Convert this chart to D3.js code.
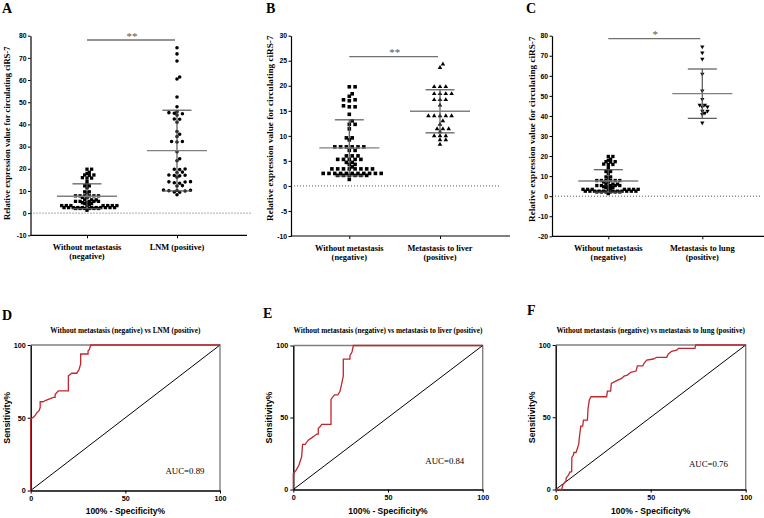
<!DOCTYPE html>
<html><head><meta charset="utf-8">
<script src="https://cdn.jsdelivr.net/npm/d3@7"></script>
<style>body{margin:0;background:#fff}svg{display:block}</style>
</head><body>
<svg id="c" width="764" height="518"></svg>
<script>
// ---------------- DATA ----------------
const catsA = [["Without metastasis", "(negative)"], ["LNM (positive)"]];
const catsB = [["Without metastasis", "(negative)"], ["Metastasis to liver", "(positive)"]];
const catsC = [["Without metastasis", "(negative)"], ["Metastasis to lung", "(positive)"]];

const negValues = [19.8, 19.8, 18.4, 17.9, 17.2, 17.2, 17.0, 16.0, 15.8, 15.8, 14.3, 13.0, 12.3, 12.3, 11.4, 9.6, 9.6, 9.2,
  7.8, 7.8, 7.8, 7.8, 7.8, 7.8, 7.1, 7.1, 6.0, 6.0, 6.0, 5.3, 5.3, 5.3, 5.3, 5.3, 4.7, 4.7, 4.3, 4.3, 3.8,
  3.4, 3.4, 3.4, 3.4, 3.4, 3.4, 3.4, 3.4, 2.5, 2.5, 2.5, 2.5, 2.5, 2.5, 2.5, 2.5, 2.5, 2.5, 2.5,
  2.1, 2.1, 2.1, 2.1, 2.1, 2.1, 1.3];
const lnmValues = [74.6, 71.8, 68.6, 61.4, 60.5, 52.4, 48.0, 45.7, 45.3, 45.0, 44.8, 44.2, 42.4, 42.3, 41.0, 36.8, 35.6, 34.5,
  32.3, 32.1, 32.3, 27.7, 24.5, 23.6, 19.9, 19.7, 19.8, 18.5, 18.3, 17.1, 17.0, 16.8, 17.2, 16.2, 14.2, 14.0, 14.1, 13.7, 13.5,
  12.4, 12.2, 10.3, 10.1, 10.2, 10.0, 10.4, 9.5, 9.4, 8.3];
const liverValues = [24.3, 23.6, 19.8, 19.8, 19.8, 18.4, 18.4, 18.4, 18.4, 17.2, 17.2, 17.2, 16.1, 14.0, 14.0, 14.0, 14.0, 14.0,
  13.0, 12.3, 11.4, 11.4, 11.4, 10.8, 10.0, 10.0, 10.0, 9.2, 9.2, 8.3];
const lungValues = [74.5, 71.5, 68.4, 60.9, 52.6, 48.3, 45.5, 44.6, 44.6, 45.5, 42.5, 41.5, 42.5, 40.8, 36.6];

// mean, SD
const negStats = [7.6, 5.6];
const lnmStats = [28.2, 18.2];
const liverStats = [14.9, 4.3];
const lungStats = [51.1, 12.3];

const ticksA = [-10, 0, 10, 20, 30, 40, 50, 60, 70, 80];
const ticksB = [-10, -5, 0, 5, 10, 15, 20, 25, 30];
const ticksC = [-20, -10, 0, 10, 20, 30, 40, 50, 60, 70, 80];
const rocTicks = [0, 50, 100];

const rocD = [[0,0],[0,49],[1,50],[2,51],[3,53],[4.5,55],[5,57],[5,61],[6.5,61],[8,62],[10,63],[12,64],[12.9,64],[12.9,66],[14.6,68.5],[19.9,68.5],[19.9,78.8],[21.7,80.6],[24.3,80.6],[25.5,83],[26.4,87],[26.4,93.8],[30.3,93.8],[30.3,96],[31,97],[31.7,100],[100,100]];
const rocE = [[0,0],[0,11.1],[1.5,13.5],[3,17],[4.4,22.7],[4.9,31.3],[6.2,31.3],[7.9,34.3],[10.6,36.7],[12.3,38.5],[13.2,38.5],[13.2,42.5],[14.1,43.5],[15,45.2],[19.9,45.2],[19.9,62.6],[21.7,65.7],[23.5,65.7],[24.6,68],[25.5,73],[26.4,78.9],[26.4,90.5],[29.9,90.5],[29.9,93],[31,95.5],[31.7,100],[100,100]];
const rocF = [[0,0],[3.2,0],[3.7,3],[4.9,5.3],[5.5,6],[5.5,8],[6.7,9.9],[7.5,12.2],[8.4,12.2],[8.5,22.2],[9.3,23.8],[9.6,25.6],[10.7,25.6],[11.4,28.4],[12.1,31.4],[12.5,36.5],[13.2,43.9],[14.2,43.9],[14.6,48],[16.7,48],[17,55.7],[17.7,61.9],[18.6,64.2],[26.8,64.2],[27.2,68.1],[28.9,68.1],[29.3,73.4],[32.1,75.3],[34.7,76.9],[36,78.5],[37.7,79.2],[39.5,81.1],[42.3,82],[43,85.5],[45.8,85.5],[46.5,87.3],[47.9,89.6],[51.4,90.3],[53.2,91.5],[58.4,91.5],[59.3,93.8],[61,95.6],[63.7,96.5],[64.6,97.7],[73.3,97.7],[73.7,100],[100,100]];
const diagonal = [[0,0],[100,100]];

const rocTitles = ["Without metastasis (negative) vs LNM (positive)",
  "Without metastasis (negative) vs metastasis to liver (positive)",
  "Without metastasis (negative) vs metastasis to lung (positive)"];
const aucLabels = ["AUC=0.89", "AUC=0.84", "AUC=0.76"];
const yTitle = "Relative expression value for circulating ciRS-7";

// ---------------- DRAW ----------------
const svg = d3.select("#c");
const SERIF = "'Liberation Serif','Times New Roman',serif";
const SANS = "'Liberation Sans',Arial,sans-serif";

// beeswarm: points in the same row need a full step, points in neighbouring rows half a step
function swarm(values, y, cx, spacing, sameTol, nearTol) {
  const pts = values.map(v => ({v, py: y(v)})).sort((a, b) => a.v - b.v);
  const placed = [];
  const step = spacing / 2;
  pts.forEach(p => {
    for (let k = 0; k < 400; k++) {
      const off = (k === 0) ? 0 : (k % 2 === 1 ? 1 : -1) * Math.ceil(k / 2) * step;
      const px = cx + off;
      const clash = placed.some(q => {
        const dv = Math.abs(q.v - p.v), dx = Math.abs(q.px - px);
        return (dv < sameTol && dx < spacing - 0.01) || (dv < nearTol && dx < step - 0.01);
      });
      if (!clash) { p.px = px; placed.push(p); break; }
    }
  });
  return placed;
}

function letter(t, x, y) {
  svg.append("text").attr("x", x).attr("y", y).text(t)
    .attr("font-family", SERIF).attr("font-weight", "bold").attr("font-size", 14);
}

function styleAxis(sel) {
  sel.select(".domain").attr("stroke", "#000").attr("stroke-width", 1.2);
  sel.selectAll(".tick line").attr("stroke", "#000").attr("stroke-width", 1);
}

function scatter(cfg) {
  const g = svg.append("g");
  const y = d3.scaleLinear().domain([cfg.ticks[0], cfg.ticks[cfg.ticks.length - 1]]).range([cfg.yBottom, cfg.yTop]);
  const x = d3.scalePoint().domain([0, 1]).range([cfg.c0, cfg.c1]);

  g.append("line").attr("x1", cfg.axisX).attr("x2", cfg.zeroEnd).attr("y1", y(0)).attr("y2", y(0))
    .attr("stroke", "#444").attr("stroke-width", 0.9).attr("stroke-dasharray", "1,2");

  const ya = g.append("g").attr("transform", `translate(${cfg.axisX},0)`)
    .call(d3.axisLeft(y).tickValues(cfg.ticks).tickSize(2.5).tickSizeOuter(0).tickPadding(1.5).tickFormat(d => String(d)));
  styleAxis(ya);
  ya.selectAll("text").attr("font-family", SANS).attr("font-weight", "bold").attr("font-size", 6.8).attr("fill", "#000");

  const xa = g.append("g").attr("transform", `translate(0,${cfg.yBottom})`)
    .call(d3.axisBottom(x).tickSize(3).tickFormat(""));
  xa.select(".domain").remove();
  xa.selectAll(".tick line").attr("stroke", "#000");
  g.append("line").attr("x1", cfg.axisX).attr("x2", cfg.axisEnd).attr("y1", cfg.yBottom).attr("y2", cfg.yBottom)
    .attr("stroke", "#000").attr("stroke-width", 1.2);

  cfg.cats.forEach((lines, i) => {
    const t = g.append("text").attr("text-anchor", "middle").attr("font-family", SERIF)
      .attr("font-weight", "bold").attr("font-size", 8.4).attr("fill", "#000");
    lines.forEach((l, j) => t.append("tspan").attr("x", x(i)).attr("y", cfg.yBottom + 14.5 + j * 9).text(l));
  });

  g.append("text").attr("transform", `translate(${cfg.titleX},${cfg.titleBottom}) rotate(-90)`)
    .attr("font-family", SERIF).attr("font-weight", "bold").attr("font-size", cfg.titleSize).text(yTitle);

  cfg.groups.forEach((grp, i) => {
    const pts = swarm(grp.values, y, x(i), grp.spacing, grp.tol[0], grp.tol[1]);
    const [m, sd] = grp.stats;
    const sg = g.append("g").attr("stroke", "#555").attr("stroke-width", 1.2);
    sg.append("line").attr("x1", x(i)).attr("x2", x(i)).attr("y1", y(m - sd)).attr("y2", y(m + sd));
    g.append("g").selectAll("path").data(pts).join("path")
      .attr("transform", d => `translate(${d.px},${d.py})` + (grp.rot ? " rotate(180)" : ""))
      .attr("d", d3.symbol().type(grp.symbol).size(grp.size)).attr("fill", "#000");
    [m - sd, m + sd].forEach(v => sg.append("line").attr("x1", x(i) - 14.5).attr("x2", x(i) + 14.5).attr("y1", y(v)).attr("y2", y(v)));
    sg.raise();
    g.append("line").attr("x1", x(i) - 30).attr("x2", x(i) + 30).attr("y1", y(m)).attr("y2", y(m))
      .attr("stroke", "#808080").attr("stroke-width", 1.4);
  });

  g.append("line").attr("x1", x(0)).attr("x2", x(1) - 2).attr("y1", cfg.sigY).attr("y2", cfg.sigY)
    .attr("stroke", "#707070").attr("stroke-width", 1.3);
  g.append("text").attr("x", (x(0) + x(1)) / 2).attr("y", cfg.sigY - 0.5).attr("text-anchor", "middle")
    .attr("font-family", SERIF).attr("font-size", 11).attr("fill", "#555").text(cfg.sig);
}

function roc(cfg) {
  const g = svg.append("g");
  const x = d3.scaleLinear().domain([0, 100]).range([cfg.x0, cfg.x1]);
  const y = d3.scaleLinear().domain([0, 100]).range([cfg.y0, cfg.y1]);
  const line = d3.line().x(d => x(d[0])).y(d => y(d[1]));

  g.append("path").attr("d", `M${cfg.x0},${cfg.y1}H${cfg.x1}V${cfg.y0}`).attr("fill", "none")
    .attr("stroke", "#808080").attr("stroke-width", 1.4);
  const ya = g.append("g").attr("transform", `translate(${cfg.x0},0)`)
    .call(d3.axisLeft(y).tickValues(rocTicks).tickSize(3).tickSizeOuter(0).tickPadding(2));
  const xa = g.append("g").attr("transform", `translate(0,${cfg.y0})`)
    .call(d3.axisBottom(x).tickValues(rocTicks).tickSize(3).tickSizeOuter(0).tickPadding(2));
  [ya, xa].forEach(a => {
    styleAxis(a);
    a.select(".domain").attr("stroke-width", 1.4);
    a.selectAll("text").attr("font-family", SANS).attr("font-weight", "bold").attr("font-size", 7.2).attr("fill", "#000");
  });

  g.append("path").attr("d", line(diagonal)).attr("fill", "none").attr("stroke", "#000").attr("stroke-width", 1);
  g.append("path").attr("d", line(cfg.data)).attr("fill", "none").attr("stroke", "#c1272d").attr("stroke-width", 1.3);

  g.append("text").attr("x", (cfg.x0 + cfg.x1) / 2).attr("y", cfg.titleY).attr("text-anchor", "middle")
    .attr("font-family", SERIF).attr("font-weight", "bold").attr("font-size", 7.3).text(cfg.title);
  g.append("text").attr("x", x(cfg.aucPos[0])).attr("y", y(cfg.aucPos[1])).attr("text-anchor", "middle")
    .attr("font-family", SERIF).attr("font-size", 8.8).attr("fill", "#000").text(cfg.auc);
  g.append("text").attr("x", (cfg.x0 + cfg.x1) / 2).attr("y", 514).attr("text-anchor", "middle")
    .attr("font-family", SANS).attr("font-weight", "bold").attr("font-size", 8.5).text("100% - Specificity%");
  g.append("text").attr("transform", `translate(${cfg.x0 - 21},${(cfg.y0 + cfg.y1) / 2}) rotate(-90)`)
    .attr("text-anchor", "middle").attr("font-family", SANS).attr("font-weight", "bold").attr("font-size", 8.8)
    .text("Sensitivity%");
}

scatter({cats: catsA, ticks: ticksA, yBottom: 235.3, yTop: 35.7, axisX: 30.5, axisEnd: 247, zeroEnd: 252,
  c0: 87, c1: 177, titleX: 9.5, titleBottom: 220, titleSize: 8.6, sigY: 40, sig: "**",
  groups: [{values: negValues, stats: negStats, symbol: d3.symbolSquare, size: 11, tol: [0.2, 1.3], spacing: 4.6},
           {values: lnmValues, stats: lnmStats, symbol: d3.symbolCircle, size: 10, tol: [0.6, 1.5], spacing: 5.4}]});
scatter({cats: catsB, ticks: ticksB, yBottom: 236, yTop: 35.7, axisX: 291, axisEnd: 510, zeroEnd: 500,
  c0: 349.3, c1: 440, titleX: 272.5, titleBottom: 221, titleSize: 9.2, sigY: 56.7, sig: "**",
  groups: [{values: negValues, stats: negStats, symbol: d3.symbolSquare, size: 13, tol: [0.2, 0.75], spacing: 5.8},
           {values: liverValues, stats: liverStats, symbol: d3.symbolTriangle, size: 9, tol: [0.3, 0.75], spacing: 5.8}]});
scatter({cats: catsC, ticks: ticksC, yBottom: 236.3, yTop: 35.7, axisX: 552, axisEnd: 770, zeroEnd: 762,
  c0: 608.3, c1: 702.3, titleX: 535, titleBottom: 222, titleSize: 9.2, sigY: 38.7, sig: "*",
  groups: [{values: negValues, stats: negStats, symbol: d3.symbolSquare, size: 11, tol: [0.2, 1.3], spacing: 4.6},
           {values: lungValues, stats: lungStats, symbol: d3.symbolTriangle, size: 8, rot: true, tol: [0.6, 1.5], spacing: 5.2}]});

letter("A", 2, 13);
letter("B", 266, 12.5);
letter("C", 526, 12.5);

roc({x0: 30.7, x1: 220, y0: 490.5, y1: 345, data: rocD, title: rocTitles[0], auc: aucLabels[0], titleY: 333, aucPos: [81.5, 11.3]});
roc({x0: 293.3, x1: 482.7, y0: 489.5, y1: 345.5, data: rocE, title: rocTitles[1], auc: aucLabels[1], titleY: 333, aucPos: [80, 17.7]});
roc({x0: 555.7, x1: 745.7, y0: 489.5, y1: 345, data: rocF, title: rocTitles[2], auc: aucLabels[2], titleY: 333, aucPos: [80.4, 15.6]});

letter("D", 2, 320);
letter("E", 263, 318);
letter("F", 527, 315);
</script>
</body></html>
